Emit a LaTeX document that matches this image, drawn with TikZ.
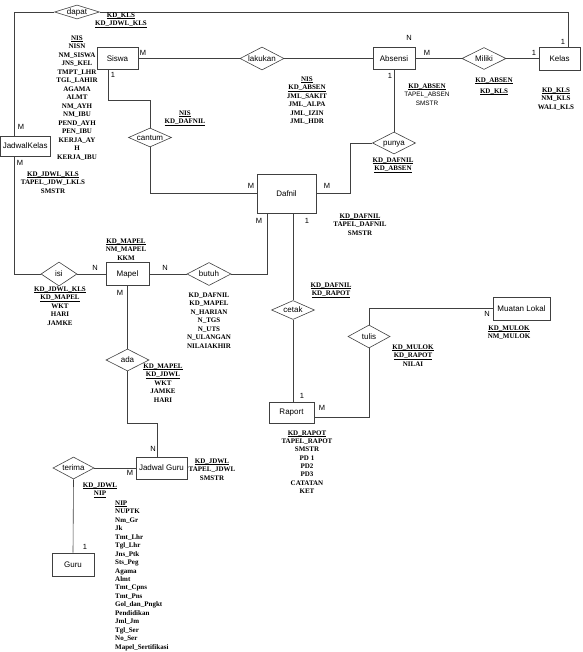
\documentclass[tikz,border=0pt]{standalone}
\usepackage{fontspec}
\setmainfont{Liberation Serif}
\setsansfont{Liberation Sans}
\usetikzlibrary{shapes.geometric,calc}
\newcommand\dtext[1]{\smash{\makebox[0pt]{\raisebox{-2.9pt}{#1}}}}
\newcommand\ul[1]{\setbox0\hbox{#1}\rlap{\rule[-1.3pt]{\wd0}{0.45pt}}\box0}
\tikzset{
  ent/.style={draw=black!75, line width=0.6pt, rectangle, inner sep=0pt,
    font=\sffamily\fontsize{8}{9}\selectfont},
  rel/.style={draw=black!75, line width=0.6pt, diamond, inner sep=0pt,
    font=\sffamily\fontsize{8}{9}\selectfont},
  conn/.style={draw=black!75, line width=0.6pt},
  card/.style={font=\sffamily\fontsize{7.5}{8}\selectfont, inner sep=0pt},
  attr/.style={font=\bfseries\fontsize{7}{8.5}\selectfont, inner sep=0pt,
    align=center, anchor=north},
  attrl/.style={font=\bfseries\fontsize{7}{8.47}\selectfont, inner sep=0pt,
    align=left, anchor=north west},
}
\begin{document}
\begin{tikzpicture}[x=1pt,y=-1pt]
\useasboundingbox (0,0) rectangle (582,652);

% entities
\node[ent, minimum width=41pt, minimum height=22pt] (siswa) at (117.5,58.5) {Siswa};
\node[ent, minimum width=42pt, minimum height=22pt] (absensi) at (394,58.5) {Absensi};
\node[ent, minimum width=41pt, minimum height=23pt] (kelas) at (559.5,58.5) {Kelas};
\node[ent, minimum width=49.5pt, minimum height=20pt] (jkelas) at (25.25,146) {JadwalKelas};
\node[ent, minimum width=59pt, minimum height=39pt] (dafnil) at (286.5,193.5) {Dafnil};
\node[ent, minimum width=43pt, minimum height=23pt] (mapel) at (127.5,274) {Mapel};
\node[ent, minimum width=45pt, minimum height=21pt] (raport) at (291.5,412.5) {Raport};
\node[ent, minimum width=57pt, minimum height=23pt] (mulok) at (521.5,308.5) {Muatan Lokal};
\node[ent, minimum width=51pt, minimum height=22pt] (jguru) at (161.5,468) {Jadwal Guru};
\node[ent, minimum width=42pt, minimum height=23pt] (guru) at (73,564.5) {Guru};

% relationships
\node[rel, minimum width=45pt, minimum height=14pt] (dapat) at (77,12) {\dtext{dapat}};
\node[rel, minimum width=44pt, minimum height=23pt] (lakukan) at (262,58.5) {\dtext{lakukan}};
\node[rel, minimum width=44pt, minimum height=22pt] (miliki) at (484,58.5) {\dtext{Miliki}};
\node[rel, minimum width=43pt, minimum height=19pt] (cantum) at (150,137.5) {\dtext{cantum}};
\node[rel, minimum width=43pt, minimum height=22pt] (punya) at (394,143) {\dtext{punya}};
\node[rel, minimum width=36pt, minimum height=24pt] (isi) at (59,274) {\dtext{isi}};
\node[rel, minimum width=44pt, minimum height=23pt] (butuh) at (209,274) {\dtext{butuh}};
\node[rel, minimum width=43pt, minimum height=19pt] (cetak) at (293,310) {\dtext{cetak}};
\node[rel, minimum width=42pt, minimum height=23pt] (tulis) at (369,336.5) {\dtext{tulis}};
\node[rel, minimum width=43pt, minimum height=22pt] (ada) at (127.5,360) {\dtext{ada}};
\node[rel, minimum width=41pt, minimum height=22pt] (terima) at (73.5,468) {\dtext{terima}};

% connectors
\draw[conn] (dapat.west) -| ([xshift=-11.25pt]jkelas.north);
\draw[conn] (dapat.east) -| ([xshift=8.5pt]kelas.north);
\draw[conn] (siswa.east) -- (lakukan.west);
\draw[conn] (lakukan.east) -- (absensi.west);
\draw[conn] (absensi.east) -- (miliki.west);
\draw[conn] (miliki.east) -- (kelas.west);
\draw[conn] (absensi.south) -- (punya.north);
\draw[conn] (punya.west) -- ++(-21.5,0) |- (dafnil.east);
\draw[conn] ([xshift=-9.5pt]siswa.south) -- ++(0,31) -| (cantum.north);
\draw[conn] (cantum.south) |- (dafnil.west);
\draw[conn] ([xshift=-11.25pt]jkelas.south) |- (isi.west);
\draw[conn] (isi.east) -- (mapel.west);
\draw[conn] (mapel.east) -- (butuh.west);
\draw[conn] (butuh.east) -| ([xshift=-19.5pt]dafnil.south);
\draw[conn] ([xshift=6.5pt]dafnil.south) -- (cetak.north);
\draw[conn] (cetak.south) -- (cetak.south |- raport.north);
\draw[conn] ([yshift=-4.5pt]raport.east) -| (tulis.south);
\draw[conn] (tulis.north) |- (mulok.west);
\draw[conn] (mapel.south) -- (ada.north);
\draw[conn] (ada.south) -- ++(0,52) -| ([xshift=-4.5pt]jguru.north);
\draw[conn] (jguru.west) -- (terima.east);
\draw[conn] (terima.south) -- (guru.north);

% cardinalities
\node[card] (c1) at (21,127) {M};
\node[card] (c2) at (20,163) {M};
\node[card] (c3) at (143,53) {M};
\node[card] (c4) at (113,75) {1};
\node[card] (c5) at (409,38) {N};
\node[card] (c6) at (427,53) {M};
\node[card] (c7) at (390,76) {1};
\node[card] (c8) at (534,53) {1};
\node[card] (c9) at (563,42) {1};
\node[card] (c10) at (251,186) {M};
\node[card] (c11) at (327,186) {M};
\node[card] (c12) at (259,221) {M};
\node[card] (c13) at (307,221) {1};
\node[card] (c14) at (95,268) {N};
\node[card] (c15) at (165,268) {N};
\node[card] (c16) at (120,293) {M};
\node[card] (c17) at (302,396) {1};
\node[card] (c18) at (322,408) {M};
\node[card] (c19) at (487,314) {N};
\node[card] (c20) at (153,449) {N};
\node[card] (c21) at (130,473) {M};
\node[card] (c22) at (85,547) {1};

% attributes
\node[attr] (a_dapat) at (121,12.5) {\ul{KD\_KLS}\\\ul{KD\_JDWL\_KLS}};
\node[attr] (a_siswa) at (77,35.5) {\ul{NIS}\\NISN\\NM\_SISWA\\JNS\_KEL\\TMPT\_LHR\\TGL\_LAHIR\\AGAMA\\ALMT\\NM\_AYH\\NM\_IBU\\PEND\_AYH\\PEN\_IBU\\KERJA\_AY\\H\\KERJA\_IBU};
\node[attr] (a_lakukan) at (307,76.5) {\ul{NIS}\\\ul{KD\_ABSEN}\\JML\_SAKIT\\JML\_ALPA\\JML\_IZIN\\JML\_HDR};
\node[attr] (a_absensi) at (427,83.5) {\ul{KD\_ABSEN}\\{\sffamily\mdseries\fontsize{6.4}{8.5}\selectfont TAPEL\_ABSEN}\\{\sffamily\mdseries\fontsize{6.4}{8.5}\selectfont SMSTR}};
\node[attr] (a_miliki) at (494,77.5) {\ul{KD\_ABSEN}\\[2.5pt]\ul{KD\_KLS}};
\node[attr] (a_kelas) at (556,87.5) {\ul{KD\_KLS}\\NM\_KLS\\WALI\_KLS};
\node[attr] (a_cantum) at (185,110.5) {\ul{NIS}\\\ul{KD\_DAFNIL}};
\node[attr] (a_punya) at (393,157.5) {\ul{KD\_DAFNIL}\\\ul{KD\_ABSEN}};
\node[attr] (a_jkelas) at (53,171.5) {\ul{KD\_JDWL\_KLS}\\TAPEL\_JDW\_LKLS\\SMSTR};
\node[attr] (a_mapel) at (126,238.5) {\ul{KD\_MAPEL}\\NM\_MAPEL\\KKM};
\node[attr] (a_isi) at (60,286.5) {\ul{KD\_JDWL\_KLS}\\\ul{KD\_MAPEL}\\WKT\\HARI\\JAMKE};
\node[attr] (a_butuh) at (209,292.5) {KD\_DAFNIL\\KD\_MAPEL\\N\_HARIAN\\N\_TGS\\N\_UTS\\N\_ULANGAN\\NILAIAKHIR};
\node[attr] (a_dafnil) at (360,213.5) {\ul{KD\_DAFNIL}\\TAPEL\_DAFNIL\\SMSTR};
\node[attr] (a_cetak) at (331,282.5) {\ul{KD\_DAFNIL}\\\ul{KD\_RAPOT}};
\node[attr] (a_mulok) at (509,325.5) {\ul{KD\_MULOK}\\NM\_MULOK};
\node[attr] (a_tulis) at (413,344.5) {\ul{KD\_MULOK}\\\ul{KD\_RAPOT}\\NILAI};
\node[attr, font=\bfseries\fontsize{7}{8.3}\selectfont] (a_raport) at (307,430.5) {\ul{KD\_RAPOT}\\TAPEL\_RAPOT\\SMSTR\\PD 1\\PD2\\PD3\\CATATAN\\KET};
\node[attr] (a_ada) at (163,363.5) {\ul{KD\_MAPEL}\\\ul{KD\_JDWL}\\WKT\\JAMKE\\HARI};
\node[attr] (a_jguru) at (212,458.5) {\ul{KD\_JDWL}\\TAPEL\_JDWL\\SMSTR};
\node[attr] (a_terima) at (100,482.5) {\ul{KD\_JDWL}\\\ul{NIP}};
\node[attrl] (a_guru) at (115,500.5) {\ul{NIP}\\NUPTK\\Nm\_Gr\\Jk\\Tmt\_Lhr\\Tgl\_Lhr\\Jns\_Ptk\\Sts\_Peg\\Agama\\Almt\\Tmt\_Cpns\\Tmt\_Pns\\Gol\_dan\_Pngkt\\Pendidikan\\Jml\_Jm\\Tgl\_Ser\\No\_Ser\\Mapel\_Sertifikasi};
\end{tikzpicture}
\end{document}
